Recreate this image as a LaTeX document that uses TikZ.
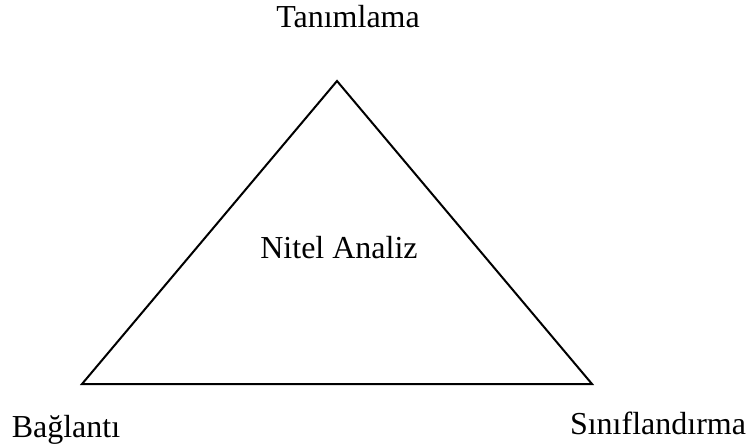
\documentclass[tikz,border=0pt]{standalone}
\usepackage{fontspec}
\setmainfont{Liberation Serif}
\usetikzlibrary{positioning}

\begin{document}
\begin{tikzpicture}[
						x=0.5pt, y=-0.5pt,
						lbl/.style={anchor=base, inner sep=0pt, font=\fontsize{16}{19}\selectfont},
						edge/.style={draw, line width=1pt, line join=miter}
					]
						\useasboundingbox (0,0) rectangle (749,447);

						\coordinate (top) at (337,81);
						\coordinate (left) at (82,384);
						\coordinate (right) at (592,384);

						\draw[edge] (top) -- (right) -- (left) -- cycle;

						\node[lbl] (tan) at (348,27) {Tanımlama};
						\node[lbl] (nitel) at (339,258) {Nitel Analiz};
						\node[lbl] (bag) at (66,437) {Bağlantı};
						\node[lbl] (sin) at (658,434) {Sınıflandırma};
					\end{tikzpicture}
\end{document}
